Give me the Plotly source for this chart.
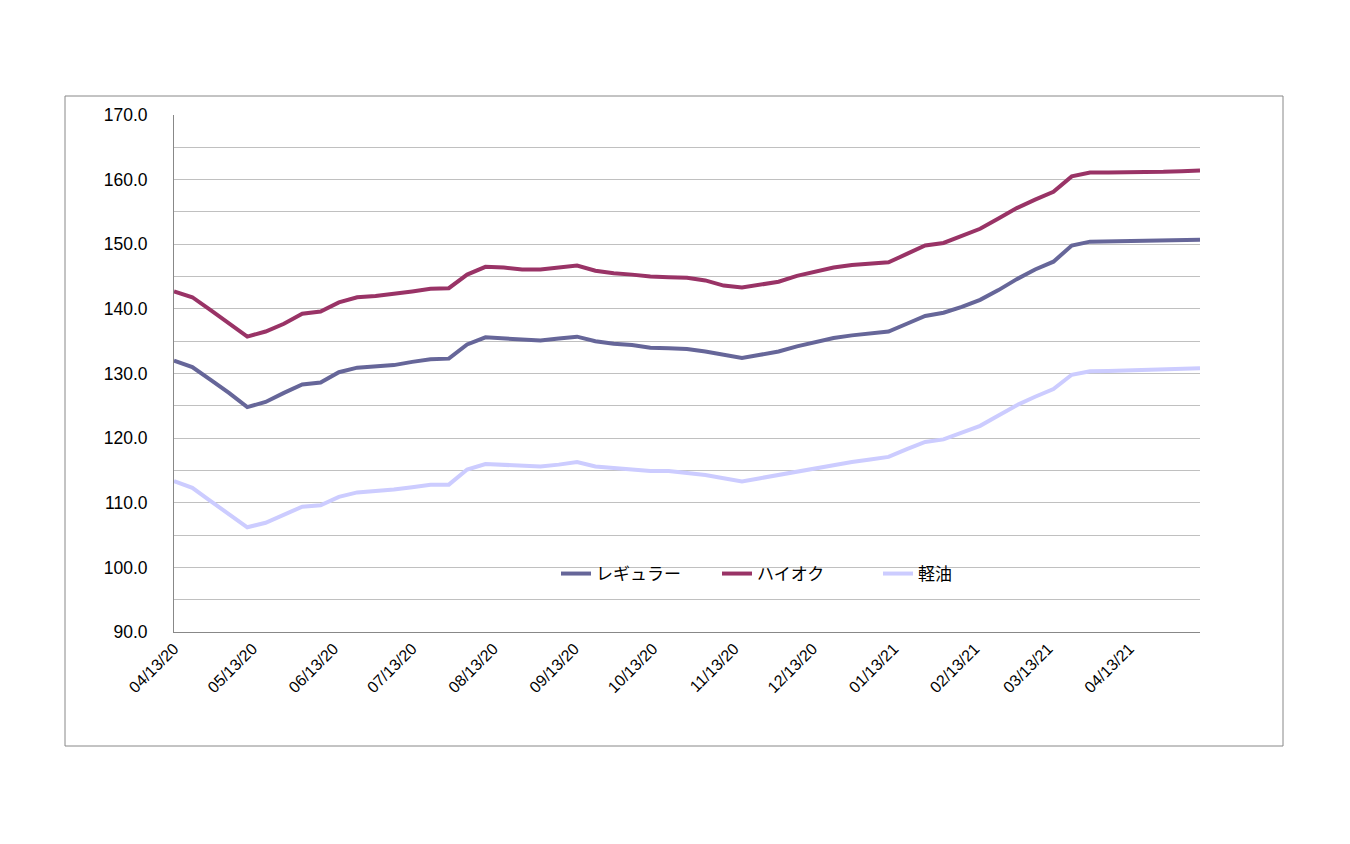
import plotly.graph_objects as go
import pandas as pd

# Weekly survey dates (Mondays) from 2020-04-13 to 2021-05-10
dates = pd.date_range("2020-04-13", "2021-05-10", freq="7D")

regular = [132.0, 131.0, 129.0, 127.0, 124.8, 125.6, 127.0, 128.3, 128.6, 130.2,
           130.9, 131.1, 131.3, 131.8, 132.2, 132.3, 134.5, 135.6, 135.4, 135.2,
           135.1, 135.4, 135.7, 135.0, 134.6, 134.4, 134.0, 133.9, 133.8, 133.4,
           132.9, 132.4, 132.9, 133.4, 134.2, 134.8, 135.5, 135.9, 136.2, 136.5,
           137.7, 138.9, 139.4, 140.3, 141.4, 142.9, 144.6, 146.1, 147.3, 149.8,
           150.4, 150.45, 150.5, 150.5, 150.55, 150.6, 150.7]

high_octane = [142.7, 141.8, 139.8, 137.8, 135.7, 136.5, 137.7, 139.25, 139.6, 141.0,
               141.8, 142.0, 142.3, 142.7, 143.1, 143.2, 145.3, 146.5, 146.4, 146.1,
               146.1, 146.4, 146.7, 145.9, 145.5, 145.3, 145.0, 144.9, 144.8, 144.4,
               143.6, 143.3, 143.7, 144.2, 145.1, 145.8, 146.4, 146.8, 147.0, 147.2,
               148.5, 149.8, 150.2, 151.3, 152.4, 154.0, 155.6, 156.9, 158.1, 160.5,
               161.1, 161.1, 161.1, 161.1, 161.2, 161.3, 161.4]

diesel = [113.35, 112.3, 110.25, 108.2, 106.2, 106.9, 108.1, 109.4, 109.6, 110.9,
          111.6, 111.75, 112.05, 112.4, 112.8, 112.8, 115.15, 116.0, 115.9, 115.8,
          115.6, 115.9, 116.3, 115.6, 115.4, 115.15, 114.9, 114.9, 114.6, 114.3,
          113.8, 113.3, 113.8, 114.3, 114.9, 115.4, 115.9, 116.3, 116.7, 117.1,
          118.3, 119.4, 119.8, 120.9, 121.9, 123.5, 125.1, 126.4, 127.6, 129.8,
          130.35, 130.4, 130.45, 130.5, 130.6, 130.7, 130.8]

series_names = ["レギュラー", "ハイオク", "軽油"]
series_colors = ["#666699", "#993366", "#CCCCFF"]

tick_dates = ["2020-04-13", "2020-05-13", "2020-06-13", "2020-07-13", "2020-08-13",
              "2020-09-13", "2020-10-13", "2020-11-13", "2020-12-13", "2021-01-13",
              "2021-02-13", "2021-03-13", "2021-04-13"]
tick_text = ["04/13/20", "05/13/20", "06/13/20", "07/13/20", "08/13/20", "09/13/20",
             "10/13/20", "11/13/20", "12/13/20", "01/13/21", "02/13/21", "03/13/21",
             "04/13/21"]
y_ticks = [90, 100, 110, 120, 130, 140, 150, 160, 170]

fig = go.Figure()
for name, vals, col in zip(series_names, [regular, high_octane, diesel], series_colors):
    fig.add_trace(go.Scatter(x=dates, y=vals, mode="lines", name=name,
                             line=dict(color=col, width=4)))

W, H = 1350, 844
L, R, T, B = 174, 1200, 115, 632
pw, ph = R - L, B - T

def px(x):
    return (x - L) / pw

def py(y):
    return (B - y) / ph

fig.update_layout(
    width=W, height=H,
    margin=dict(l=L, r=W - R, t=T, b=H - B, pad=0),
    paper_bgcolor="white", plot_bgcolor="white",
    font=dict(family="Liberation Sans, Arial, sans-serif", color="black"),
    showlegend=True,
    legend=dict(orientation="h", x=px(556), y=py(574), xanchor="left", yanchor="middle",
                bgcolor="rgba(0,0,0,0)", font=dict(family="Noto Sans CJK JP", size=17),
                entrywidth=116, entrywidthmode="pixels", itemclick=False),
    xaxis=dict(type="date", range=["2020-04-13", "2021-05-10"],
               tickvals=tick_dates, ticktext=tick_text, tickangle=-45,
               tickfont=dict(size=16), showgrid=False, zeroline=False,
               showline=True, linecolor="#888888", linewidth=1, ticks=""),
    yaxis=dict(range=[90, 170], tickvals=y_ticks, ticktext=[f"{v:.1f}" for v in y_ticks],
               tickfont=dict(size=17.5), showgrid=True, gridcolor="#c0c0c0", gridwidth=1,
               minor=dict(dtick=5, tick0=90, showgrid=True, gridcolor="#c0c0c0", gridwidth=1),
               zeroline=False, showline=True, linecolor="#888888", linewidth=1,
               ticks="", ticklabelstandoff=22),
)

fig.add_shape(type="rect", xref="paper", yref="paper",
              x0=px(65), x1=px(1283), y0=py(746), y1=py(96),
              line=dict(color="#888888", width=1), fillcolor="rgba(0,0,0,0)", layer="below")

fig.write_html("out.html")
